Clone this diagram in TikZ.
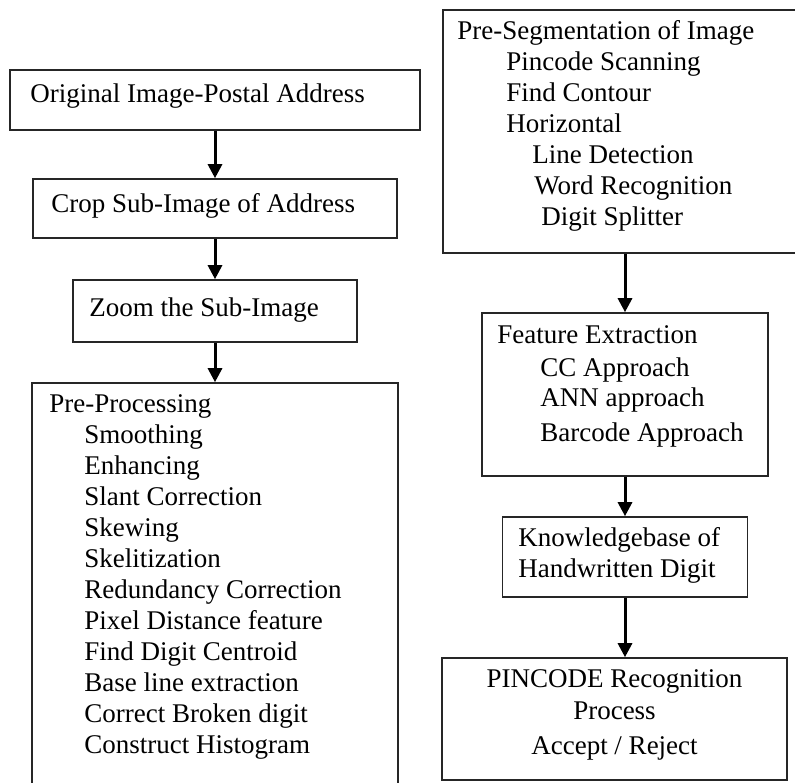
\documentclass[tikz,border=0pt]{standalone}
\usepackage{fontspec}
\setmainfont{Liberation Serif}
\usetikzlibrary{positioning,arrows.meta}

\tikzset{
    stage/.style={draw=black!85, line width=1.6pt, rectangle, inner sep=0pt},
    words/.style={inner sep=0pt, align=left, font=\fontsize{27}{31}\selectfont},
    flow/.style={line width=3pt, -{Triangle[length=14pt,width=14pt]}}
}

\begin{document}
\begin{tikzpicture}[x=1pt,y=-1pt]
    \useasboundingbox (0,0) rectangle (795,783);
    \clip (0,0) rectangle (795,783);

    % Left column
    \node[stage, minimum width=410pt, minimum height=60pt] (orig) at (215,100) {};
    \node[stage, minimum width=364pt, minimum height=59pt] (crop) at (215,208.5) {};
    \node[stage, minimum width=284pt, minimum height=62pt] (zoom) at (215,311) {};
    \node[stage, minimum width=366pt, minimum height=427pt] (pre) at (215,596.5) {};

    \node[words, below right=11.3pt and 21pt of orig.north west] (origtext) {\strut Original Image-Postal Address};
    \node[words, below right=12.3pt and 19pt of crop.north west] (croptext) {\strut Crop Sub-Image of Address};
    \node[words, below right=15.3pt and 17pt of zoom.north west] (zoomtext) {\strut Zoom the Sub-Image};
    \node[words, below right=8.3pt and 18pt of pre.north west] (pretext) {\strut Pre-Processing\\
        \hspace*{35pt}Smoothing\\
        \hspace*{35pt}Enhancing\\
        \hspace*{35pt}Slant Correction\\
        \hspace*{35pt}Skewing\\
        \hspace*{35pt}Skelitization\\
        \hspace*{35pt}Redundancy Correction\\
        \hspace*{35pt}Pixel Distance feature\\
        \hspace*{35pt}Find Digit Centroid\\
        \hspace*{35pt}Base line extraction\\
        \hspace*{35pt}Correct Broken digit\\
        \hspace*{35pt}Construct Histogram};

    % Right column
    \node[stage, minimum width=364pt, minimum height=243pt] (seg) at (625,131.5) {};
    \node[stage, minimum width=286pt, minimum height=163pt] (feat) at (625,394.5) {};
    \node[stage, minimum width=245pt, minimum height=80pt] (know) at (625,557) {};
    \node[stage, minimum width=345pt, minimum height=122pt] (pin) at (614.5,719) {};

    \node[words, below right=8.3pt and 15pt of seg.north west] (segtext) {\strut Pre-Segmentation of Image\\
        \hspace*{49pt}Pincode Scanning\\
        \hspace*{49pt}Find Contour\\
        \hspace*{49pt}Horizontal\\
        \hspace*{75pt}Line Detection\\
        \hspace*{77pt}Word Recognition\\
        \hspace*{84pt}Digit Splitter};
    \node[words, below right=9.3pt and 16pt of feat.north west] (feattext) {\strut Feature Extraction\\[2pt]
        \hspace*{43pt}CC Approach\\[-1pt]
        \hspace*{43pt}ANN approach\\[4pt]
        \hspace*{43pt}Barcode Approach};
    \node[words, below right=8.3pt and 16.5pt of know.north west] (knowtext) {\strut Knowledgebase of\\
        Handwritten Digit};
    \node[words, align=center, below=8.3pt of pin.north] (pintext) {\strut PINCODE Recognition\\[1pt]
        Process\\[4pt]
        Accept / Reject};

    % Arrows
    \draw[flow] (orig) -- (crop);
    \draw[flow] (crop) -- (zoom);
    \draw[flow] (zoom) -- (pre);
    \draw[flow] (seg) -- (feat);
    \draw[flow] (feat) -- (know);
    \draw[flow] (know.south) -- (know.south |- pin.north);
\end{tikzpicture}
\end{document}
